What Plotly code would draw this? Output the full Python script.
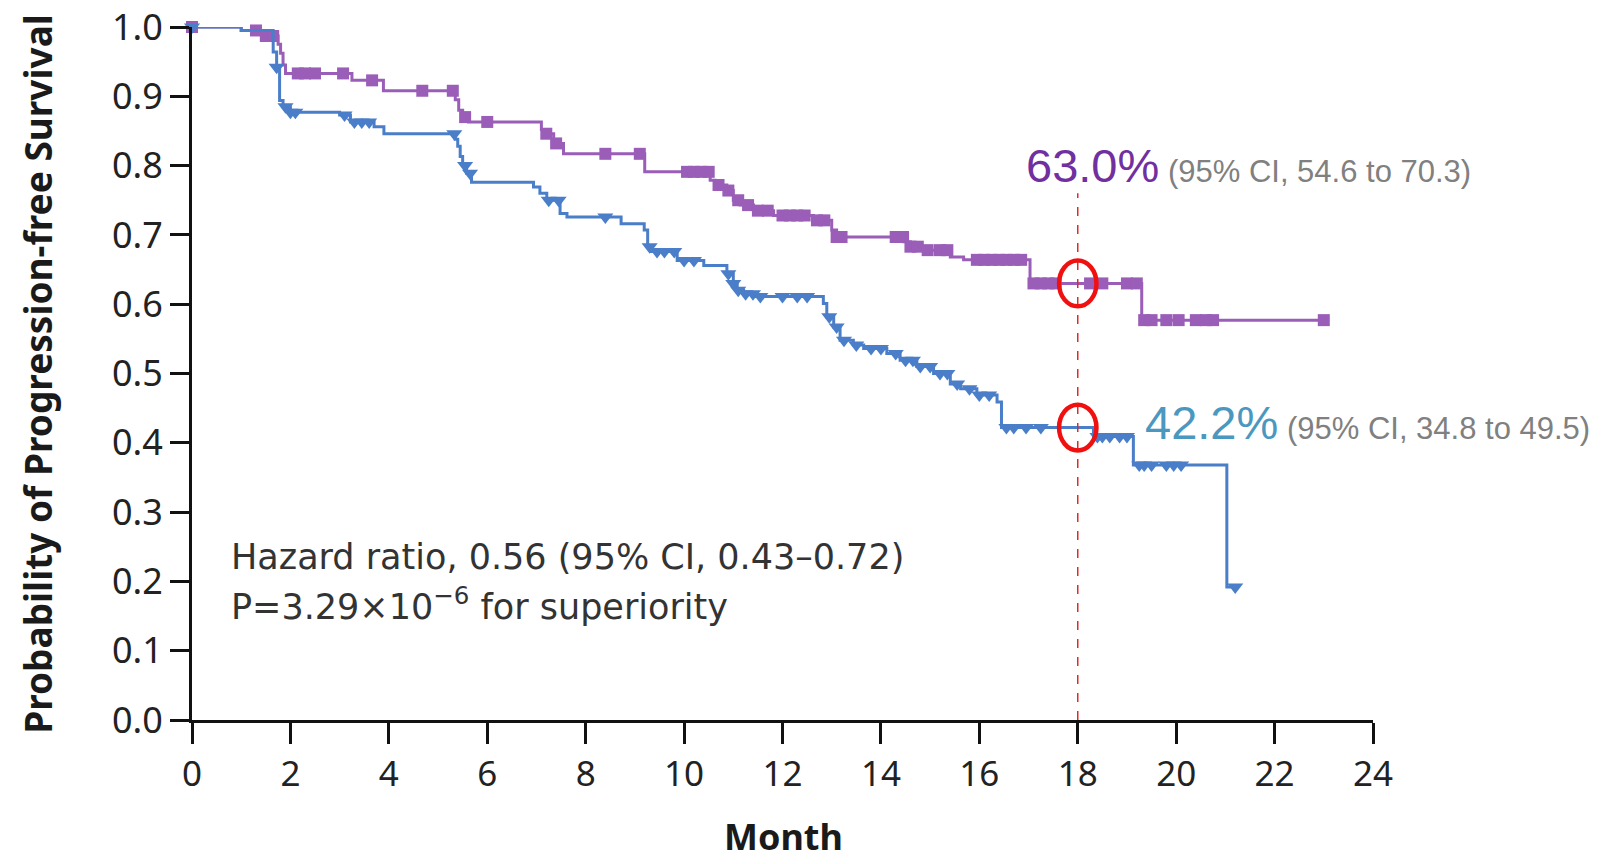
import numpy as np
import plotly.graph_objects as go

# Kaplan-Meier step functions: time of each step (months) and survival after it
exp_times = [0, 1.0, 1.45, 1.75, 1.8, 1.85, 1.9, 3.25, 3.89, 5.35, 5.42, 5.5, 5.62,
             7.1, 7.2, 7.35, 7.55, 9.2, 10.53, 10.63, 10.87, 11.0, 11.14, 11.41,
             11.82, 12.63, 13.0, 13.1, 14.46, 14.6, 14.87, 15.41, 15.68, 17.03, 19.3]
exp_surv = [1.0, 0.995, 0.987, 0.975, 0.962, 0.945, 0.933, 0.923, 0.908, 0.895, 0.880,
            0.870, 0.863, 0.852, 0.846, 0.832, 0.817, 0.791, 0.779, 0.772, 0.764,
            0.750, 0.743, 0.735, 0.728, 0.721, 0.707, 0.697, 0.690, 0.683, 0.678,
            0.668, 0.664, 0.630, 0.577]
exp_end = 23.0
exp_censor = [0, 1.3, 1.5, 1.65, 2.15, 2.3, 2.5, 3.07, 3.66, 4.68, 5.3, 5.55, 6.0,
              7.2, 7.4, 8.4, 9.1, 10.06, 10.2, 10.35, 10.5, 10.7, 10.9, 11.1, 11.3,
              11.5, 11.7, 12.0, 12.15, 12.3, 12.45, 12.7, 12.85, 13.1, 13.2, 14.3,
              14.45, 14.6, 14.75, 14.95, 15.2, 15.35, 15.95, 16.1, 16.25, 16.4, 16.55,
              16.7, 16.85, 17.1, 17.25, 17.4, 17.55, 18.25, 18.5, 19.0, 19.2, 19.35,
              19.5, 19.8, 20.05, 20.4, 20.6, 20.75, 23.0]

ctl_times = [0, 1.0, 1.65, 1.72, 1.78, 1.85, 2.0, 3.0, 3.22, 3.7, 3.9, 5.35, 5.4,
             5.45, 5.5, 5.58, 5.68, 6.94, 7.07, 7.21, 7.48, 7.62, 8.72, 9.19, 9.26,
             9.33, 9.86, 10.4, 10.87, 11.0, 11.08, 11.21, 11.41, 12.83, 12.9, 13.04,
             13.17, 13.44, 13.65, 14.12, 14.39, 14.73, 15.07, 15.41, 15.62, 15.95,
             16.36, 16.45, 18.32, 19.13, 21.03]
ctl_surv = [1.0, 0.995, 0.964, 0.942, 0.894, 0.885, 0.877, 0.873, 0.863, 0.856, 0.846,
            0.838, 0.828, 0.813, 0.800, 0.789, 0.776, 0.769, 0.760, 0.750, 0.731,
            0.726, 0.716, 0.707, 0.683, 0.676, 0.663, 0.656, 0.644, 0.630, 0.620,
            0.615, 0.611, 0.601, 0.582, 0.567, 0.548, 0.541, 0.536, 0.529, 0.519,
            0.510, 0.500, 0.485, 0.478, 0.469, 0.459, 0.422, 0.409, 0.368, 0.192]
ctl_end = 21.2
ctl_censor = [0, 1.72, 1.9, 2.0, 2.1, 3.1, 3.3, 3.45, 3.6, 5.33, 5.55, 5.65, 7.25,
              7.45, 8.4, 9.3, 9.45, 9.6, 9.8, 10.0, 10.2, 10.9, 11.0, 11.1, 11.25,
              11.4, 11.55, 12.0, 12.3, 12.5, 12.95, 13.1, 13.25, 13.5, 13.8, 14.0,
              14.3, 14.5, 14.65, 14.8, 15.0, 15.2, 15.35, 15.55, 15.8, 16.0, 16.2,
              16.55, 16.7, 16.95, 17.25, 18.4, 18.5, 18.65, 18.85, 19.0, 19.25,
              19.35, 19.5, 19.8, 19.95, 20.1, 21.2]

landmark_month = 18
exp_landmark = 0.630
ctl_landmark = 0.422
exp_label = "63.0%"
exp_ci = "(95% CI, 54.6 to 70.3)"
ctl_label = "42.2%"
ctl_ci = "(95% CI, 34.8 to 49.5)"

x_ticks = list(range(0, 25, 2))
y_ticks = [round(0.1 * i, 1) for i in range(11)]

PURPLE = "#9A5EB8"
BLUE = "#4A7EC8"


def step_value(times, surv, t):
    idx = np.searchsorted(np.asarray(times), np.asarray(t), side="right") - 1
    return np.asarray(surv)[idx]


fig = go.Figure()

for times, surv, end, censor, color, symbol, msize in [
    (exp_times, exp_surv, exp_end, exp_censor, PURPLE, "square", 12),
    (ctl_times, ctl_surv, ctl_end, ctl_censor, BLUE, "triangle-down", 14),
]:
    fig.add_trace(go.Scatter(
        x=list(times) + [end], y=list(surv) + [surv[-1]],
        mode="lines", line=dict(color=color, width=3, shape="hv"),
        hoverinfo="skip", showlegend=False, cliponaxis=False))
    fig.add_trace(go.Scatter(
        x=censor, y=step_value(times, surv, censor),
        mode="markers", marker=dict(symbol=symbol, size=msize, color=color,
                                    line=dict(width=0)),
        showlegend=False, cliponaxis=False))

# landmark line at 18 months
fig.add_shape(type="line", x0=landmark_month, x1=landmark_month, y0=0, y1=0.76,
              xref="x", yref="y", line=dict(color="#E02828", width=1.5, dash="dash"))

# rings around the landmark estimates
rx, ry = 0.38, 0.033
for yv in (exp_landmark, ctl_landmark):
    fig.add_shape(type="circle", xref="x", yref="y",
                  x0=landmark_month - rx, x1=landmark_month + rx,
                  y0=yv - ry, y1=yv + ry,
                  line=dict(color="#F01010", width=4.5))

ann_font = "Liberation Sans, Arial, sans-serif"
fig.add_annotation(
    x=16.9, y=0.80, xref="x", yref="y", xanchor="left", yanchor="middle",
    showarrow=False, font=dict(family=ann_font, size=31, color="#808080"),
    text=f"<span style='font-size:47px;color:#7030A0'>{exp_label}</span> {exp_ci}")
fig.add_annotation(
    x=19.33, y=0.43, xref="x", yref="y", xanchor="left", yanchor="middle",
    showarrow=False, font=dict(family=ann_font, size=31, color="#808080"),
    text=f"<span style='font-size:47px;color:#4A98C0'>{ctl_label}</span> {ctl_ci}")

# hazard ratio statement, one annotation per line
hr_font = dict(family="DejaVu Sans", size=35, color="#333333")
fig.add_annotation(
    x=0.76, y=0.235, xref="x", yref="y", xanchor="left", yanchor="middle",
    showarrow=False, font=hr_font,
    text="Hazard ratio, 0.56 (95% CI, 0.43\u20130.72)")
fig.add_annotation(
    x=0.76, y=0.168, xref="x", yref="y", xanchor="left", yanchor="middle",
    showarrow=False, font=hr_font,
    text="P=3.29\u00d710<sup>\u22126</sup> for superiority")

# axis titles
fig.add_annotation(
    x=-0.131, y=0.5, xref="paper", yref="paper", xanchor="center", yanchor="middle",
    textangle=-90, showarrow=False,
    font=dict(family="Noto Sans", size=37, color="#1a1a1a", weight="bold"),
    text="Probability of Progression-free Survival")
fig.add_annotation(
    x=0.501, y=-0.168, xref="paper", yref="paper", xanchor="center", yanchor="middle",
    showarrow=False,
    font=dict(family="Noto Sans", size=36, color="#1a1a1a", weight="bold"),
    text="Month")

fig.update_xaxes(
    range=[0, 24], tickvals=x_ticks, ticktext=[str(v) for v in x_ticks],
    showgrid=False, zeroline=False, showline=True, linecolor="#111111", linewidth=3,
    ticks="outside", ticklen=21, tickwidth=2.5, tickcolor="#111111",
    tickfont=dict(family="Noto Sans", size=35, color="#222222"))
fig.update_yaxes(
    range=[0, 1.0], tickvals=y_ticks, ticktext=[f"{v:.1f}" for v in y_ticks],
    showgrid=False, zeroline=False, showline=True, linecolor="#111111", linewidth=3,
    ticks="outside", ticklen=19, tickwidth=2.5, tickcolor="#111111",
    tickfont=dict(family="Noto Sans", size=36, color="#222222"))

fig.update_layout(
    width=1617, height=864,
    margin=dict(l=192, r=244, t=27, b=144, autoexpand=False),
    paper_bgcolor="white", plot_bgcolor="white",
    showlegend=False)

fig.write_html("out.html")
